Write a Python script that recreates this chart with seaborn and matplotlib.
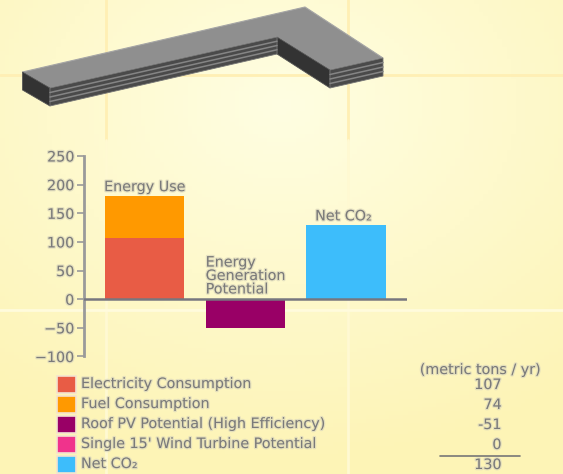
import matplotlib
matplotlib.use('Agg')
import matplotlib.pyplot as plt
import matplotlib.patheffects as pe
from matplotlib.colors import LinearSegmentedColormap
from matplotlib.patches import Polygon, Rectangle
import numpy as np
import pandas as pd
import seaborn as sns

# Chart data
groups = ['Energy Use', 'Energy Generation Potential', 'Net CO₂']
electricity = [107, 0, 0]
fuel = [74, 0, 0]
generation = [0, -51, 0]
net_co2 = [0, 0, 130]

legend_labels = ['Electricity Consumption', 'Fuel Consumption',
                 'Roof PV Potential (High Efficiency)',
                 "Single 15' Wind Turbine Potential", 'Net CO₂']
legend_values = ['107', '74', '-51', '0', '130']
legend_colors = ['#e85c45', '#ff9900', '#990066', '#f0338c', '#3dbdfb']
yticks = [-100, -50, 0, 50, 100, 150, 200, 250]

W, H = 563, 474
TEXT = '#7a7a7a'
FONT = 10.3
halo = [pe.withStroke(linewidth=1.8, foreground='#dcd8bc', alpha=0.75)]

sns.set_theme(style='white')
plt.rcParams['font.family'] = ['DejaVu Sans']

fig = plt.figure(figsize=(W / 100, H / 100), dpi=100)

# Background in pixel coordinates
bg = fig.add_axes([0, 0, 1, 1])
bg.set_xlim(0, W)
bg.set_ylim(H, 0)
bg.axis('off')
yy, xx = np.mgrid[0:1:120j, 0:1:120j]
shade = np.clip(np.hypot((xx - 0.5) * 0.95, (yy - 0.22) * 1.05) / 0.8, 0, 1)
cmap = LinearSegmentedColormap.from_list('paper', ['#fffee2', '#fdf4b6'])
bg.imshow(shade, cmap=cmap, vmin=0, vmax=1, extent=[0, W, H, 0], aspect='auto')
for x in [106, 348]:
    bg.plot([x, x], [0, 140], color='#ffefb4', lw=2, zorder=1)
    bg.plot([x, x], [140, H], color='#fff9d2', lw=2, zorder=1)
bg.plot([0, W], [75, 75], color='#ffefb4', lw=2, zorder=1)
bg.plot([0, W], [310, 310], color='#fffbdc', lw=2, zorder=1)

# Building massing
top = [(22.5, 72), (305, 7), (383, 58), (330, 70), (277, 37), (50, 88)]
left_end = [(22.5, 72), (50, 88), (50, 106), (22.5, 90)]
front = [(50, 88), (277, 37), (277, 54), (50, 106)]
inner = [(277, 37), (330, 70), (330, 88), (277, 54)]
right_end = [(330, 70), (383, 58), (383, 76), (330, 88)]
bg.add_patch(Polygon(top, fc='#8f8f8f', ec='#a5a5a5', lw=0.8, zorder=3))
for pts in [left_end, inner]:
    bg.add_patch(Polygon(pts, fc='#333333', ec='#555555', lw=0.6, zorder=3))
for pts in [front, right_end]:
    bg.add_patch(Polygon(pts, fc='#4a4a4a', ec='#777777', lw=0.6, zorder=3))
    (x0, y0), (x1, y1), (x2, y2), (x3, y3) = pts
    for t in [0.25, 0.5, 0.75]:
        bg.plot([x0 + (x3 - x0) * t, x1 + (x2 - x1) * t],
                [y0 + (y3 - y0) * t, y1 + (y2 - y1) * t], color='#858585', lw=1.1,
                zorder=4)

# Bar chart, axes box spans x 84-407 and y 156-356 px
ax = fig.add_axes([84 / W, 1 - 356.5 / H, (407 - 84) / W, (356.5 - 156) / H])
ax.patch.set_alpha(0)
positions = list(range(len(groups)))
df = pd.DataFrame({'group': positions, 'electricity': electricity, 'fuel': fuel,
                   'generation': generation, 'net': net_co2})
bar_kw = dict(x='group', native_scale=True, width=0.785, ax=ax, errorbar=None,
              saturation=1, linewidth=0)
sns.barplot(data=df, y='electricity', color=legend_colors[0], **bar_kw)
sns.barplot(data=df, y='fuel', bottom=df['electricity'], color=legend_colors[1], **bar_kw)
sns.barplot(data=df, y='generation', color=legend_colors[2], **bar_kw)
sns.barplot(data=df, y='net', color=legend_colors[4], **bar_kw)
ax.set_xlim(-0.6, 2.605)
ax.set_ylim(-100, 250)
ax.set_yticks(yticks)
ax.set_xticks([])
ax.set_xlabel('')
ax.set_ylabel('')
ax.tick_params(axis='y', left=True, length=5, width=1.2, color='#9a9a9a', pad=2,
               labelsize=FONT, labelcolor=TEXT)
for label in ax.get_yticklabels():
    label.set_path_effects(halo)
sns.despine(ax=ax, top=True, right=True, bottom=True)
ax.spines['left'].set_color('#9a9a9a')
ax.spines['left'].set_linewidth(2)
ax.axhline(0, color='#77777f', lw=1.8, zorder=5)

label_kw = dict(fontsize=FONT, color=TEXT, path_effects=halo)
ax.annotate(groups[0], (0, electricity[0] + fuel[0]), xytext=(0, 1),
            textcoords='offset points', ha='center', va='bottom', **label_kw)
ax.annotate('Energy\nGeneration\nPotential', (1, 0), xytext=(-28.5, 2),
            textcoords='offset points', ha='left', va='bottom', linespacing=0.95,
            **label_kw)
ax.annotate(groups[2], (2, net_co2[2]), xytext=(-2, 1),
            textcoords='offset points', ha='center', va='bottom', **label_kw)

# Legend table in pixel coordinates
row_y = [384, 404, 424, 444, 464]
for y, name, value, color in zip(row_y, legend_labels, legend_values, legend_colors):
    bg.add_patch(Rectangle((56.5, y - 8.5), 19, 17, fc=color, ec='#f3e3d0', lw=1.2))
    bg.text(81, y, name, va='center', ha='left', **label_kw)
    bg.text(501.5, y + 1, value, va='center', ha='right', **label_kw)
bg.text(480, 370, '(metric tons / yr)', va='center', ha='center', **label_kw)
bg.plot([440, 520], [456, 456], color='#777777', lw=1.2)

fig.savefig('out.png', dpi=100)
